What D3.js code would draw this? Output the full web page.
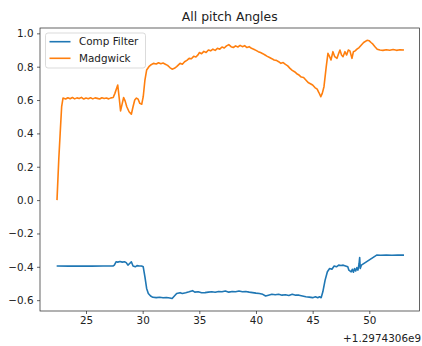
<!DOCTYPE html>
<html>
<head>
<meta charset="utf-8">
<script src="https://cdn.jsdelivr.net/npm/d3@7"></script>
<style>
  body { margin: 0; background: #fff; }
  svg { display: block; font-family: "DejaVu Sans", sans-serif; }
</style>
</head>
<body>
<div id="chart"></div>
<script>
const width = 422;
const height = 346;

const title = "All pitch Angles";
const seriesNames = ["Comp Filter", "Madgwick"];
const colors = ["#1f77b4", "#ff7f0e"];
const xOffsetLabel = "+1.2974306e9";
const xTicks = [25, 30, 35, 40, 45, 50];
const yTicks = [-0.6, -0.4, -0.2, 0.0, 0.2, 0.4, 0.6, 0.8, 1.0];

// seconds after 1.2974306e9
const compTime = [22.41, 23.5, 24.5, 25.5, 26.5, 27.38, 27.5, 27.65, 27.8, 28.0, 28.2, 28.4, 28.55, 28.7, 28.85, 29.0,
    29.15, 29.35, 29.5, 29.7, 29.9, 30.05, 30.2, 30.35, 30.5, 30.7, 30.9, 31.2, 31.5, 31.8, 32.1, 32.4, 32.6, 32.8, 33.0,
    33.3, 33.5, 33.8, 34.1, 34.4, 34.6, 34.9, 35.2, 35.5, 35.8, 36.1, 36.4, 36.7, 37.0, 37.3, 37.6, 37.9, 38.2, 38.5,
    38.8, 39.1, 39.4, 39.7, 40.0, 40.3, 40.6, 40.85, 41.1, 41.4, 41.7, 42.0, 42.3, 42.6, 42.9, 43.2, 43.5, 43.8, 44.1,
    44.4, 44.7, 45.0, 45.25, 45.45, 45.6, 45.75, 45.9, 46.1, 46.3, 46.5, 46.7, 46.9, 47.1, 47.3, 47.5, 47.7, 47.9, 48.1,
    48.2, 48.4, 48.5, 48.6, 48.7, 48.8, 48.9, 49.0, 49.1, 49.15, 49.2, 49.3, 50.65, 51.0, 51.5, 52.0, 52.5, 53.06];
const compValues = [-0.395, -0.396, -0.395, -0.396, -0.395, -0.395, -0.39, -0.37, -0.372, -0.368, -0.372, -0.37, -0.375,
    -0.39, -0.38, -0.37, -0.395, -0.4, -0.393, -0.395, -0.395, -0.4, -0.46, -0.53, -0.56, -0.575, -0.583, -0.585, -0.583,
    -0.586, -0.584, -0.587, -0.59, -0.575, -0.56, -0.555, -0.56, -0.556, -0.55, -0.543, -0.552, -0.55, -0.556, -0.555,
    -0.552, -0.55, -0.553, -0.548, -0.55, -0.545, -0.552, -0.548, -0.55, -0.545, -0.55, -0.548, -0.552, -0.555, -0.558,
    -0.56, -0.565, -0.575, -0.57, -0.565, -0.568, -0.565, -0.57, -0.568, -0.572, -0.565, -0.57, -0.57, -0.575, -0.58,
    -0.582, -0.585, -0.58, -0.585, -0.58, -0.585, -0.55, -0.48, -0.43, -0.41, -0.415, -0.395, -0.4, -0.39, -0.392, -0.39,
    -0.395, -0.4, -0.42, -0.43, -0.415, -0.432, -0.41, -0.425, -0.405, -0.42, -0.38, -0.345, -0.41, -0.39, -0.33, -0.331,
    -0.33, -0.331, -0.33, -0.33];

const madgTime = [22.44, 22.6, 22.72, 22.85, 22.97, 23.2, 23.4, 23.6, 23.8, 24.0, 24.2, 24.4, 24.6, 24.8, 25.0, 25.2,
    25.4, 25.6, 25.8, 26.0, 26.2, 26.4, 26.6, 26.8, 27.0, 27.2, 27.4, 27.55, 27.8, 27.95, 28.05, 28.2, 28.32, 28.45, 28.6,
    28.8, 29.0, 29.15, 29.3, 29.45, 29.6, 29.75, 29.92, 30.05, 30.2, 30.35, 30.55, 30.75, 30.95, 31.2, 31.4, 31.6, 31.8,
    32.0, 32.2, 32.4, 32.6, 32.8, 33.0, 33.3, 33.5, 33.7, 33.9, 34.1, 34.3, 34.5, 34.7, 34.9, 35.0, 35.2, 35.4, 35.6, 35.8,
    36.0, 36.2, 36.4, 36.6, 36.8, 37.0, 37.2, 37.4, 37.6, 37.8, 38.0, 38.2, 38.4, 38.6, 38.8, 39.0, 39.2, 39.4, 39.6, 39.8,
    40.0, 40.2, 40.4, 40.6, 40.8, 41.0, 41.2, 41.4, 41.6, 41.8, 42.0, 42.2, 42.4, 42.6, 42.8, 43.0, 43.2, 43.4, 43.6, 43.8,
    44.0, 44.2, 44.4, 44.6, 44.8, 45.0, 45.2, 45.4, 45.55, 45.72, 45.85, 46.0, 46.2, 46.35, 46.5, 46.62, 46.79, 46.95,
    47.15, 47.3, 47.41, 47.55, 47.68, 47.85, 48.0, 48.15, 48.29, 48.47, 48.6, 48.75, 48.91, 49.1, 49.3, 49.5, 49.8, 50.0,
    50.15, 50.32, 50.5, 50.7, 50.94, 51.2, 51.5, 51.8, 52.1, 52.4, 52.7, 53.06];
const madgValues = [0.0, 0.25, 0.4, 0.56, 0.612, 0.606, 0.614, 0.608, 0.615, 0.607, 0.613, 0.609, 0.616, 0.606, 0.612,
    0.608, 0.614, 0.607, 0.613, 0.61, 0.606, 0.614, 0.609, 0.612, 0.607, 0.613, 0.615, 0.64, 0.69, 0.6, 0.535, 0.58, 0.615,
    0.595, 0.56, 0.53, 0.515, 0.56, 0.6, 0.612, 0.605, 0.58, 0.575, 0.62, 0.72, 0.78, 0.8, 0.812, 0.82, 0.816, 0.824, 0.818,
    0.822, 0.815, 0.808, 0.795, 0.785, 0.79, 0.8, 0.82, 0.815, 0.83, 0.838, 0.85, 0.848, 0.862, 0.858, 0.872, 0.885, 0.878,
    0.892, 0.885, 0.9, 0.895, 0.905, 0.898, 0.91, 0.905, 0.918, 0.912, 0.925, 0.932, 0.92, 0.915, 0.925, 0.918, 0.928,
    0.92, 0.926, 0.915, 0.92, 0.91, 0.905, 0.898, 0.89, 0.885, 0.878, 0.87, 0.862, 0.855, 0.848, 0.84, 0.838, 0.83, 0.82,
    0.825, 0.814, 0.805, 0.79, 0.778, 0.77, 0.758, 0.75, 0.738, 0.735, 0.72, 0.705, 0.698, 0.69, 0.675, 0.665, 0.645, 0.62,
    0.64, 0.68, 0.8, 0.88, 0.86, 0.84, 0.89, 0.86, 0.85, 0.88, 0.9, 0.87, 0.86, 0.89, 0.87, 0.9, 0.895, 0.85, 0.89, 0.895,
    0.905, 0.915, 0.93, 0.945, 0.958, 0.955, 0.945, 0.935, 0.92, 0.905, 0.9, 0.898, 0.902, 0.899, 0.903, 0.898, 0.902, 0.9];

const margin = { top: 28, right: 2.5, bottom: 35, left: 40 };
const plotW = width - margin.left - margin.right;
const plotH = height - margin.top - margin.bottom;

const x = d3.scaleLinear().domain([20.94, 54.43]).range([0, plotW]);
const y = d3.scaleLinear().domain([-0.665, 1.032]).range([plotH, 0]);

const svg = d3.select("#chart").append("svg")
    .attr("width", width)
    .attr("height", height);

svg.append("rect").attr("width", width).attr("height", height).attr("fill", "#fff");

const g = svg.append("g").attr("transform", `translate(${margin.left},${margin.top})`);

const series = [
    { name: seriesNames[0], color: colors[0], pts: compTime.map((t, i) => [t, compValues[i]]) },
    { name: seriesNames[1], color: colors[1], pts: madgTime.map((t, i) => [t, madgValues[i]]) }
];

const line = d3.line().x(d => x(d[0])).y(d => y(d[1]));

g.selectAll("path.series")
    .data(series)
    .enter()
    .append("path")
    .attr("class", "series")
    .attr("d", d => line(d.pts))
    .attr("fill", "none")
    .attr("stroke", d => d.color)
    .attr("stroke-width", 1.6)
    .attr("stroke-linejoin", "round");

// axes
const xAxis = g.append("g")
    .attr("transform", `translate(0,${plotH})`)
    .call(d3.axisBottom(x).tickValues(xTicks).tickFormat(d3.format("d")).tickSize(3).tickPadding(3));
const yAxis = g.append("g")
    .call(d3.axisLeft(y).tickValues(yTicks).tickFormat(d3.format(".1f")).tickSize(3).tickPadding(3.5));

[xAxis, yAxis].forEach(a => {
    a.select(".domain").remove();
    a.selectAll("line").attr("stroke", "#222").attr("stroke-width", 0.7);
    a.selectAll("text").attr("fill", "#222").style("font-size", "10.4px").style("font-family", "DejaVu Sans");
});

g.append("rect")
    .attr("width", plotW)
    .attr("height", plotH)
    .attr("fill", "none")
    .attr("stroke", "#222")
    .attr("stroke-width", 0.7);

svg.append("text")
    .attr("x", width - 1)
    .attr("y", 341.5)
    .attr("text-anchor", "end")
    .attr("fill", "#222")
    .style("font-size", "10.4px")
    .text(xOffsetLabel);

svg.append("text")
    .attr("x", margin.left + plotW / 2)
    .attr("y", 21)
    .attr("text-anchor", "middle")
    .attr("fill", "#222")
    .style("font-size", "12.4px")
    .text(title);

// legend
const legend = g.append("g").attr("transform", "translate(5.5,5)");
legend.append("rect")
    .attr("width", 100)
    .attr("height", 35)
    .attr("rx", 2.5)
    .attr("fill", "#fff")
    .attr("fill-opacity", 0.8)
    .attr("stroke", "#ccc")
    .attr("stroke-width", 0.7);

const items = legend.selectAll("g.item")
    .data(series)
    .enter()
    .append("g")
    .attr("class", "item")
    .attr("transform", (d, i) => `translate(0,${8.7 + i * 16.6})`);
items.append("line")
    .attr("x1", 4).attr("x2", 25)
    .attr("stroke", d => d.color)
    .attr("stroke-width", 1.6);
items.append("text")
    .attr("x", 33.5)
    .attr("dy", "0.35em")
    .attr("fill", "#222")
    .style("font-size", "10.4px")
    .text(d => d.name);
</script>
</body>
</html>
